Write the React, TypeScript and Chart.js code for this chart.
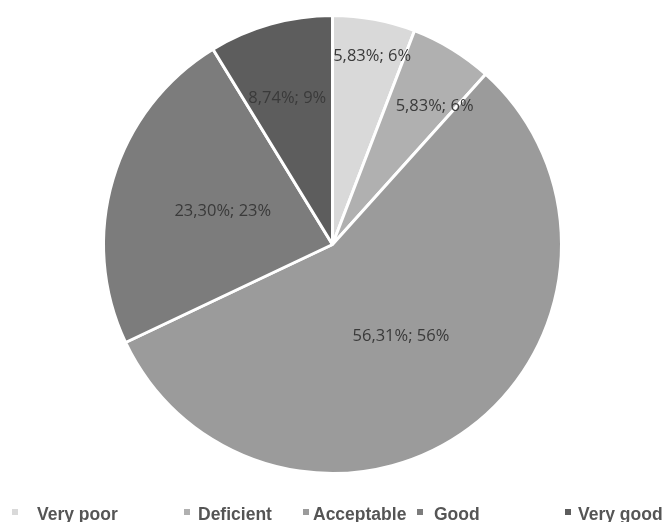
import { useEffect, useRef } from "react";
import { Chart, registerables } from "chart.js";

Chart.register(...registerables);

// Ratings and their share of answers (%)
const categories = ["Very poor", "Deficient", "Acceptable", "Good", "Very good"];
const shares = [5.83, 5.83, 56.31, 23.3, 8.74];
const sliceColors = ["#d9d9d9", "#b0b0b0", "#9b9b9b", "#7c7c7c", "#5d5d5d"];

// Label placement inside each slice: fraction of the radius and angular nudge (degrees)
const labelRadius = [0.84, 0.75, 0.5, 0.5, 0.67];
const labelNudge = [1.4, 5, 0, 0, -1.4];

// Legend layout along the bottom edge: marker x and text x for each entry
const legendMarkerX = [12, 184, 303, 417, 565];
const legendTextX = [37, 198, 313, 434, 578];

const formatLabel = (v: number) =>
  `${v.toFixed(2).replace(".", ",")}%; ${Math.round(v)}%`;

const sliceLabels = {
  id: "sliceLabels",
  afterDatasetsDraw(chart: Chart) {
    const ctx = chart.ctx;
    const meta = chart.getDatasetMeta(0);
    ctx.save();
    ctx.font = "16.5px 'Open Sans'";
    ctx.fillStyle = "#3a3a3a";
    ctx.textAlign = "center";
    ctx.textBaseline = "middle";
    meta.data.forEach((el: any, i: number) => {
      const p = el.getProps(["x", "y", "startAngle", "endAngle", "outerRadius"], true);
      const mid = (p.startAngle + p.endAngle) / 2 + (labelNudge[i] * Math.PI) / 180;
      const r = p.outerRadius * labelRadius[i];
      ctx.fillText(formatLabel(shares[i]), p.x + Math.cos(mid) * r, p.y + Math.sin(mid) * r);
    });
    ctx.restore();
  },
};

const bottomLegend = {
  id: "bottomLegend",
  afterDraw(chart: Chart) {
    const ctx = chart.ctx;
    ctx.save();
    ctx.font = "bold 17.5px 'Liberation Sans', Arial, sans-serif";
    ctx.textBaseline = "alphabetic";
    ctx.textAlign = "left";
    categories.forEach((name, i) => {
      ctx.fillStyle = sliceColors[i];
      ctx.fillRect(legendMarkerX[i], 509, 6, 6);
      ctx.fillStyle = "#555555";
      ctx.fillText(name, legendTextX[i], 520);
    });
    ctx.restore();
  },
};

export default function App() {
  const canvasRef = useRef<HTMLCanvasElement | null>(null);

  useEffect(() => {
    document.body.style.margin = "0";
    const canvas = canvasRef.current;
    if (!canvas) return;
    const chart = new Chart(canvas, {
      type: "pie",
      data: {
        labels: categories,
        datasets: [
          {
            data: shares,
            backgroundColor: sliceColors,
            borderColor: "#ffffff",
            borderWidth: 3,
          },
        ],
      },
      options: {
        responsive: false,
        animation: false,
        devicePixelRatio: 1,
        layout: { padding: { top: 14, bottom: 47, left: 0, right: 0 } },
        plugins: {
          legend: { display: false },
          tooltip: { enabled: false },
        },
      },
      plugins: [sliceLabels, bottomLegend],
    });
    return () => chart.destroy();
  }, []);

  return (
    <div style={{ width: 665, height: 522, background: "#ffffff" }}>
      <canvas ref={canvasRef} width={665} height={522} style={{ display: "block" }} />
    </div>
  );
}
